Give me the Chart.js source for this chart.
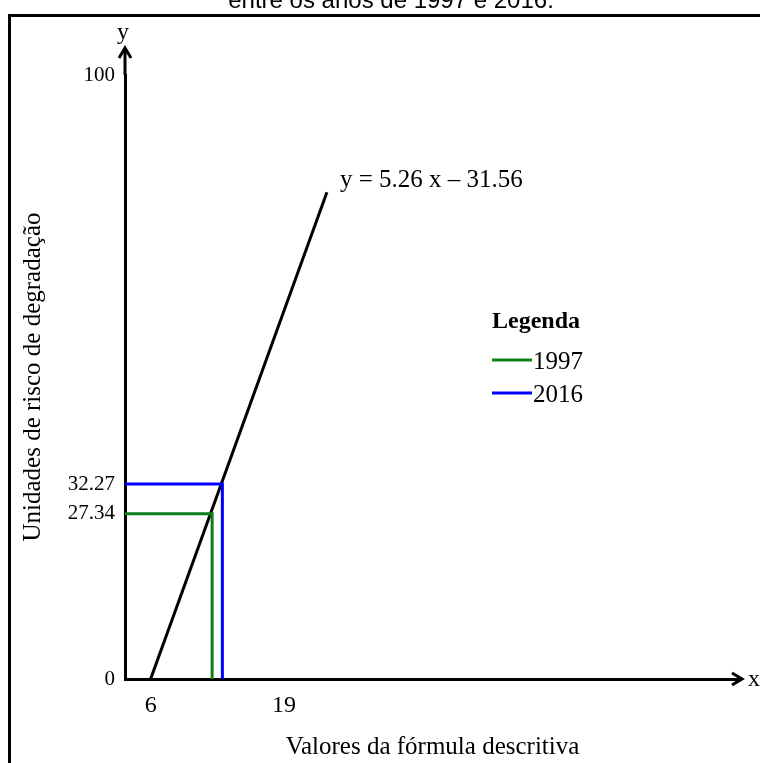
<!DOCTYPE html>
<html>
<head>
<meta charset="utf-8">
<script src="https://cdn.jsdelivr.net/npm/chart.js@4"></script>
<style>
  body { margin: 0; background: #fff; }
  #wrap { width: 760px; height: 763px; position: relative; }
</style>
</head>
<body>
<div id="wrap"><canvas id="riskChart"></canvas></div>
<script>
// Data
const chartTitle = 'entre os anos de 1997 e 2016.';
const equationText = 'y = 5.26 x \u2013 31.56';
const xTitle = 'Valores da fórmula descritiva';
const yTitle = 'Unidades de risco de degradação';

const xTicks = [6, 19];
const yTicks = [0, 27.34, 32.27, 100];

// regression line (start / end)
const lineX = [6, 23.2];
const lineY = [0, 80.6];

// years with their risk value and formula value
const years = ['1997', '2016'];
const yearRisk = [27.34, 32.27];
const yearX = [12.0, 13.0];
const yearColors = ['#0b7f1a', '#0000ff'];

const xMin = 3.5;
const xMax = 63.5;

const serif = 'Liberation Serif, Times New Roman, serif';

// datasets
const datasets = years.map((yr, i) => ({
    label: yr,
    data: [
        {x: xMin, y: yearRisk[i]},
        {x: yearX[i], y: yearRisk[i]},
        {x: yearX[i], y: 0}
    ],
    borderColor: yearColors[i],
    backgroundColor: yearColors[i],
    borderWidth: 3,
    showLine: true,
    pointRadius: 0,
    tension: 0
}));
datasets.push({
    label: 'fit',
    data: lineX.map((x, i) => ({x: x, y: lineY[i]})),
    borderColor: '#000',
    borderWidth: 3,
    showLine: true,
    pointRadius: 0
});

// extra drawing: frame, title, arrows, equation, legend
const decorations = {
    id: 'decorations',
    afterDraw(chart) {
        const ctx = chart.ctx;
        const xs = chart.scales.x;
        const ys = chart.scales.y;
        const area = chart.chartArea;
        ctx.save();

        // outer frame
        ctx.strokeStyle = '#000';
        ctx.lineWidth = 3;
        ctx.strokeRect(9.5, 15.5, 900, 900);

        // cut-off title
        ctx.fillStyle = '#000';
        ctx.font = '24px Liberation Sans, Arial, sans-serif';
        ctx.textAlign = 'center';
        ctx.textBaseline = 'alphabetic';
        ctx.fillText(chartTitle, 391, 8);

        // axis extensions + arrowheads
        const ax = area.left;
        const ay = area.bottom;
        ctx.lineWidth = 3;
        ctx.beginPath();
        ctx.moveTo(ax, area.top);
        ctx.lineTo(ax, 48);
        ctx.stroke();
        ctx.beginPath();
        ctx.moveTo(ax - 6, 58);
        ctx.lineTo(ax, 48);
        ctx.lineTo(ax + 6, 58);
        ctx.stroke();

        ctx.beginPath();
        ctx.moveTo(area.right, ay);
        ctx.lineTo(742, ay);
        ctx.stroke();
        ctx.beginPath();
        ctx.moveTo(732, ay - 6);
        ctx.lineTo(742, ay);
        ctx.lineTo(732, ay + 6);
        ctx.stroke();

        // axis letters
        ctx.font = '24px ' + serif;
        ctx.textAlign = 'center';
        ctx.textBaseline = 'middle';
        ctx.fillText('y', ax - 2, 33);
        ctx.textAlign = 'left';
        ctx.fillText('x', 748, ay + 1);

        // equation next to the line end
        const ex = xs.getPixelForValue(lineX[1]);
        const ey = ys.getPixelForValue(lineY[1]);
        ctx.font = '25px ' + serif;
        ctx.textAlign = 'left';
        ctx.fillText(equationText, ex + 13, ey - 12);

        // legend
        ctx.font = 'bold 24px ' + serif;
        ctx.fillText('Legenda', 492, 322);
        ctx.font = '25px ' + serif;
        years.forEach((yr, i) => {
            const ly = 360 + i * 33;
            ctx.strokeStyle = yearColors[i];
            ctx.beginPath();
            ctx.moveTo(492, ly);
            ctx.lineTo(532, ly);
            ctx.stroke();
            ctx.fillStyle = '#000';
            ctx.fillText(yr, 533, ly + 2);
        });
        ctx.restore();
    }
};

const config = {
    type: 'scatter',
    data: {datasets: datasets},
    options: {
        responsive: true,
        maintainAspectRatio: false,
        animation: false,
        layout: {padding: {left: 0, top: 75, right: 20, bottom: 0}},
        plugins: {
            legend: {display: false},
            tooltip: {enabled: false}
        },
        scales: {
            x: {
                type: 'linear',
                min: xMin,
                max: xMax,
                afterFit: scale => { scale.height = 84; },
                afterBuildTicks: scale => { scale.ticks = xTicks.map(v => ({value: v})); },
                grid: {display: false, drawTicks: false},
                border: {display: true, color: '#000', width: 3},
                ticks: {
                    color: '#000',
                    padding: 12,
                    maxRotation: 0,
                    autoSkip: false,
                    font: {family: serif, size: 24},
                    callback: v => String(v)
                },
                title: {
                    display: true,
                    text: xTitle,
                    color: '#000',
                    font: {family: serif, size: 25},
                    padding: {top: 0, bottom: 1}
                }
            },
            y: {
                type: 'linear',
                min: 0,
                max: 100,
                afterFit: scale => { scale.width = 125; },
                afterBuildTicks: scale => { scale.ticks = yTicks.map(v => ({value: v})); },
                grid: {display: false, drawTicks: false},
                border: {display: true, color: '#000', width: 3},
                ticks: {
                    color: '#000',
                    padding: 10,
                    autoSkip: false,
                    font: {family: serif, size: 21},
                    callback: v => String(v)
                },
                title: {
                    display: true,
                    text: yTitle,
                    color: '#000',
                    font: {family: serif, size: 25},
                    padding: {top: 18, bottom: 0}
                }
            }
        }
    },
    plugins: [decorations]
};

const riskChart = new Chart(document.getElementById('riskChart'), config);
</script>
</body>
</html>
